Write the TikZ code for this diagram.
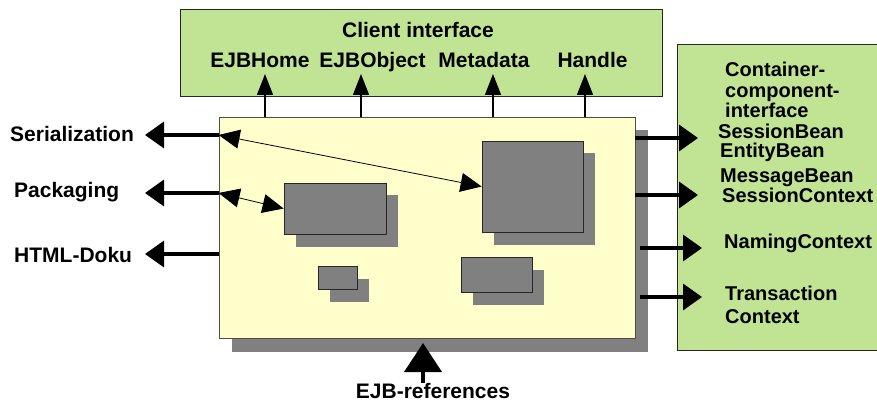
\documentclass[tikz,border=0pt]{standalone}
\usepackage{fontspec}
\setmainfont{Liberation Sans}
\usetikzlibrary{arrows.meta,shadows}
\definecolor{leafgreen}{RGB}{192,228,148}
\definecolor{paleyellow}{RGB}{255,255,204}
\definecolor{beangray}{RGB}{128,128,128}
\tikzset{
    lbl/.style={inner sep=0pt, font=\bfseries\fontsize{21}{23}\selectfont},
    rlbl/.style={lbl, anchor=base west, font=\bfseries\fontsize{20}{22}\selectfont},
    iface/.style={draw=black!85, fill=leafgreen, line width=0.8pt, inner sep=0pt},
    ejbbox/.style={draw=black!70, fill=paleyellow, line width=0.8pt, inner sep=0pt,
        drop shadow={shadow xshift=12.5pt, shadow yshift=-13.5pt, fill=beangray, opacity=1}},
    bean/.style={draw=black!85, fill=beangray, line width=0.8pt, inner sep=0pt,
        drop shadow={shadow xshift=12pt, shadow yshift=-12.5pt, fill=beangray, opacity=1}},
    thickarr/.style={line width=3.5pt, -{Triangle[length=19pt,width=26pt]}},
    uparr/.style={line width=1.4pt, -{Triangle[length=21pt,width=16pt]}},
    linkarr/.style={line width=0.8pt, {Triangle[length=21pt,width=19pt]}-{Triangle[length=21pt,width=19pt]}},
    refarr/.style={line width=4pt, -{Triangle[length=29pt,width=37pt]}}
}

\begin{document}
\begin{tikzpicture}[x=1pt,y=-1pt]
    \useasboundingbox (0,0) rectangle (877,403);

    % interface boxes
    \node[iface, minimum width=482pt, minimum height=87pt] (client) at (421,53) {};
    \node[iface, minimum width=218pt, minimum height=306pt] (contif) at (786,197) {};

    % the container with its beans
    \node[ejbbox, minimum width=416pt, minimum height=221pt] (ejb) at (427,227.5) {};
    \node[bean, minimum width=102pt, minimum height=51pt] (beana) at (335,208.5) {};
    \node[bean, minimum width=101pt, minimum height=91pt] (beanb) at (532.5,186.5) {};
    \node[bean, minimum width=39pt, minimum height=23pt] (beanc) at (337.5,277.5) {};
    \node[bean, minimum width=71pt, minimum height=35pt] (beand) at (496.5,274.5) {};

    % client interface
    \node[lbl, anchor=base] (title) at (418,38) {Client interface};
    \node[lbl, anchor=base] (home) at (260,68) {EJBHome};
    \node[lbl, anchor=base] (object) at (372.5,68) {EJBObject};
    \node[lbl, anchor=base] (meta) at (484,68) {Metadata};
    \node[lbl, anchor=base] (handle) at (592.5,68) {Handle};

    % left side
    \node[lbl, anchor=base west] (ser) at (10,142) {Serialization};
    \node[lbl, anchor=base west] (pack) at (14,198) {Packaging};
    \node[lbl, anchor=base west] (html) at (14,262) {HTML-Doku};

    % container-component-interface
    \node[rlbl] (cont1) at (725,77) {Container-};
    \node[rlbl] (cont2) at (725,98) {component-};
    \node[rlbl] (cont3) at (725,118) {interface};
    \node[rlbl] (sbean) at (718,139) {SessionBean};
    \node[rlbl] (ebean) at (720,158) {EntityBean};
    \node[rlbl] (mbean) at (720,183) {MessageBean};
    \node[rlbl] (sctx) at (722,203) {SessionContext};
    \node[rlbl] (nctx) at (724,248) {NamingContext};
    \node[rlbl] (tctx1) at (725,300) {Transaction};
    \node[rlbl] (tctx2) at (725,323) {Context};

    \node[lbl, anchor=base] (refs) at (433,398) {EJB-references};

    % arrow ends
    \coordinate (u1) at (265,74);
    \coordinate (u2) at (361,74);
    \coordinate (u3) at (493,74);
    \coordinate (u4) at (585,74);
    \coordinate (l1) at (145,135);
    \coordinate (l2) at (145,193);
    \coordinate (l3) at (145,254);
    \coordinate (r1) at (698,138);
    \coordinate (r2) at (698,195);
    \coordinate (r3) at (702,248);
    \coordinate (r4) at (702,297);
    \coordinate (b1) at (423,343);

    \draw[uparr] (ejb.north -| u1) -- (u1);
    \draw[uparr] (ejb.north -| u2) -- (u2);
    \draw[uparr] (ejb.north -| u3) -- (u3);
    \draw[uparr] (ejb.north -| u4) -- (u4);

    \draw[thickarr] (ejb.west |- l1) -- (l1);
    \draw[thickarr] (ejb.west |- l2) -- (l2);
    \draw[thickarr] (ejb.west |- l3) -- (l3);

    \draw[thickarr] (ejb.east |- r1) -- (r1);
    \draw[thickarr] (ejb.east |- r2) -- (r2);
    \draw[thickarr] ([xshift=5pt]ejb.east |- r3) -- (r3);
    \draw[thickarr] ([xshift=5pt]ejb.east |- r4) -- (r4);

    \draw[linkarr] (ejb.west |- l1) -- (beanb.west);
    \draw[linkarr] (ejb.west |- l2) -- (beana.west);

    \draw[refarr] (refs.north -| b1) -- (b1);
\end{tikzpicture}
\end{document}
